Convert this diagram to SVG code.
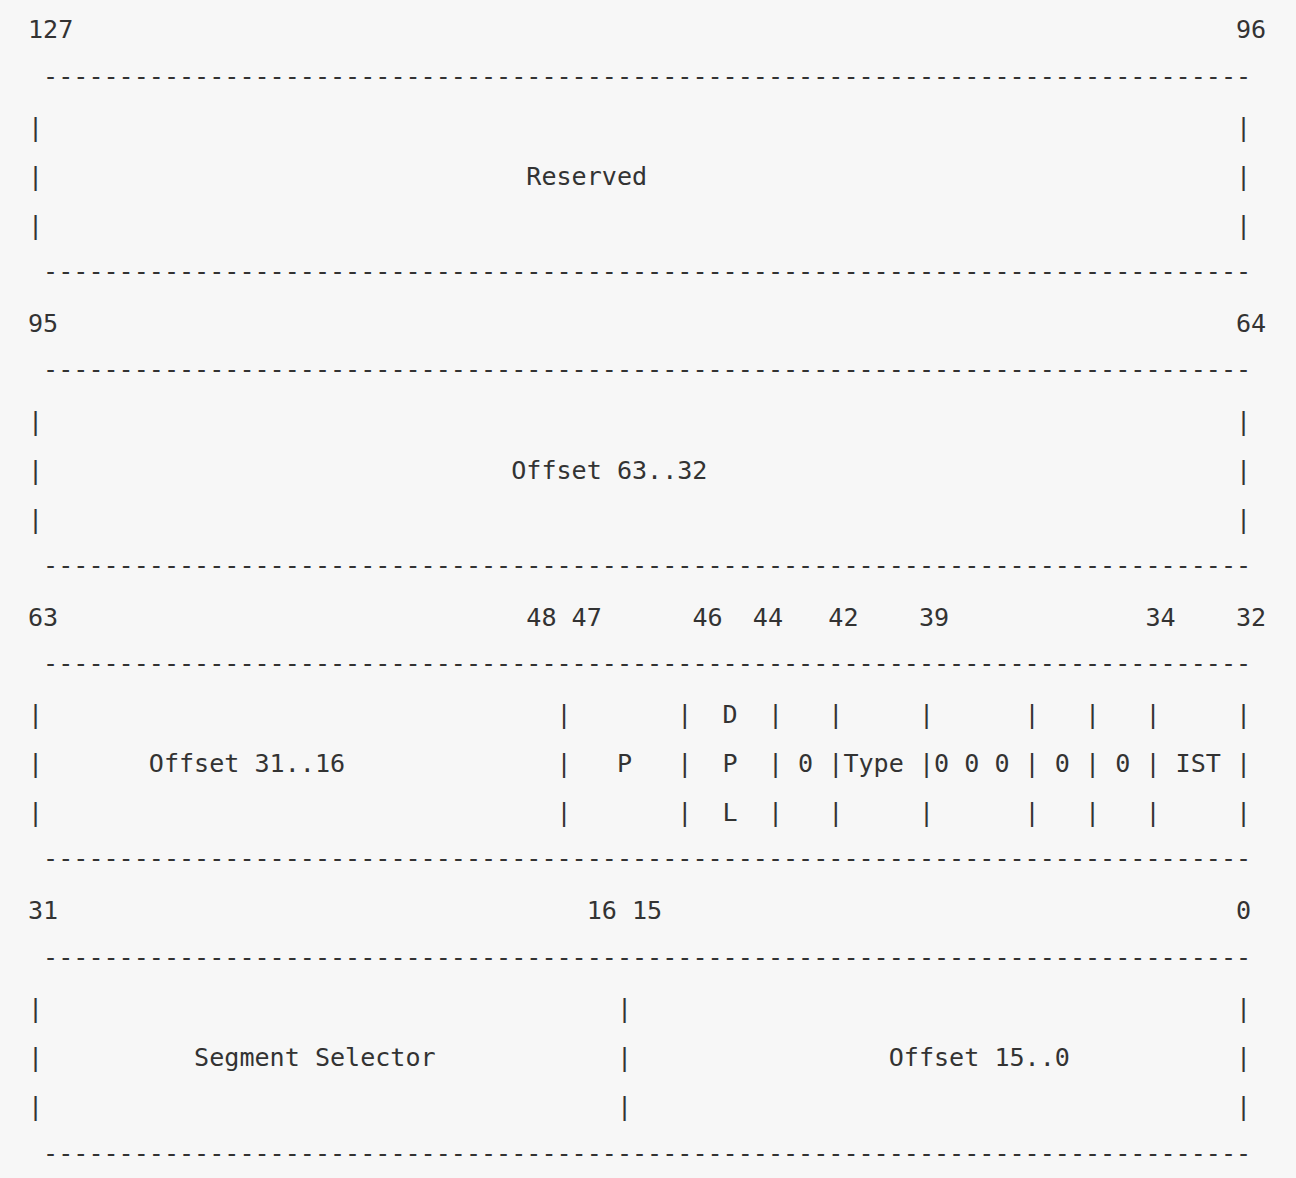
<svg xmlns="http://www.w3.org/2000/svg" width="1296" height="1178" viewBox="0 0 1296 1178">
<style>
text{font-family:"DejaVu Sans Mono","Liberation Mono",monospace;font-size:25.08px;fill:#333333;white-space:pre}
.d{letter-spacing:0}
</style>
<rect width="1296" height="1178" fill="#f7f7f7"/>
<g id="row-127-96">
<text x="28" y="38">127</text><text x="1236" y="38">96</text>
<text class="d" x="43.1" y="85" textLength="1208" lengthAdjust="spacing">--------------------------------------------------------------------------------</text>
<text x="28" y="135.9">|</text><text x="1236" y="135.9">|</text>
<text x="28" y="184.9">|</text><text x="526.3" y="184.9">Reserved</text><text x="1236" y="184.9">|</text>
<text x="28" y="233.8">|</text><text x="1236" y="233.8">|</text>
<text class="d" x="43.1" y="280" textLength="1208" lengthAdjust="spacing">--------------------------------------------------------------------------------</text>
</g>
<g id="row-95-64">
<text x="28" y="331.8">95</text><text x="1236" y="331.8">64</text>
<text class="d" x="43.1" y="378" textLength="1208" lengthAdjust="spacing">--------------------------------------------------------------------------------</text>
<text x="28" y="429.7">|</text><text x="1236" y="429.7">|</text>
<text x="28" y="478.6">|</text><text x="511.2" y="478.6">Offset 63..32</text><text x="1236" y="478.6">|</text>
<text x="28" y="527.6">|</text><text x="1236" y="527.6">|</text>
<text class="d" x="43.1" y="574" textLength="1208" lengthAdjust="spacing">--------------------------------------------------------------------------------</text>
</g>
<g id="row-63-32">
<text x="28" y="625.5">63</text>
<text x="526.3" y="625.5">48</text><text x="571.6" y="625.5">47</text>
<text x="692.4" y="625.5">46</text><text x="752.8" y="625.5">44</text>
<text x="828.3" y="625.5">42</text><text x="918.9" y="625.5">39</text>
<text x="1145.4" y="625.5">34</text><text x="1236" y="625.5">32</text>
<text class="d" x="43.1" y="672" textLength="1208" lengthAdjust="spacing">--------------------------------------------------------------------------------</text>
<g id="r14">
<text x="28" y="723.4">|</text><text x="556.5" y="723.4">|</text><text x="677.3" y="723.4">|</text>
<text x="722.6" y="723.4">D</text><text x="767.9" y="723.4">|</text><text x="828.3" y="723.4">|</text>
<text x="918.9" y="723.4">|</text><text x="1024.6" y="723.4">|</text><text x="1085" y="723.4">|</text>
<text x="1145.4" y="723.4">|</text><text x="1236" y="723.4">|</text>
</g>
<g id="r15">
<text x="28" y="772.4">|</text><text x="148.8" y="772.4">Offset 31..16</text>
<text x="556.5" y="772.4">|</text><text x="616.9" y="772.4">P</text><text x="677.3" y="772.4">|</text>
<text x="722.6" y="772.4">P</text><text x="767.9" y="772.4">|</text><text x="798.1" y="772.4">0</text>
<text x="828.3" y="772.4">|</text><text x="843.4" y="772.4">Type</text>
<text x="918.9" y="772.4">|</text><text x="934" y="772.4">0</text><text x="964.2" y="772.4">0</text><text x="994.4" y="772.4">0</text>
<text x="1024.6" y="772.4">|</text><text x="1054.8" y="772.4">0</text><text x="1085" y="772.4">|</text>
<text x="1115.2" y="772.4">0</text><text x="1145.4" y="772.4">|</text><text x="1175.6" y="772.4">IST</text>
<text x="1236" y="772.4">|</text>
</g>
<g id="r16">
<text x="28" y="821.4">|</text><text x="556.5" y="821.4">|</text><text x="677.3" y="821.4">|</text>
<text x="722.6" y="821.4">L</text><text x="767.9" y="821.4">|</text><text x="828.3" y="821.4">|</text>
<text x="918.9" y="821.4">|</text><text x="1024.6" y="821.4">|</text><text x="1085" y="821.4">|</text>
<text x="1145.4" y="821.4">|</text><text x="1236" y="821.4">|</text>
</g>
<text class="d" x="43.1" y="867" textLength="1208" lengthAdjust="spacing">--------------------------------------------------------------------------------</text>
</g>
<g id="row-31-0">
<text x="28" y="919.3">31</text><text x="586.7" y="919.3">16</text><text x="632" y="919.3">15</text><text x="1236" y="919.3">0</text>
<text class="d" x="43.1" y="966" textLength="1208" lengthAdjust="spacing">--------------------------------------------------------------------------------</text>
<text x="28" y="1017.2">|</text><text x="616.9" y="1017.2">|</text><text x="1236" y="1017.2">|</text>
<text x="28" y="1066.2">|</text><text x="194.1" y="1066.2">Segment Selector</text><text x="616.9" y="1066.2">|</text>
<text x="888.7" y="1066.2">Offset 15..0</text><text x="1236" y="1066.2">|</text>
<text x="28" y="1115.1">|</text><text x="616.9" y="1115.1">|</text><text x="1236" y="1115.1">|</text>
<text class="d" x="43.1" y="1162" textLength="1208" lengthAdjust="spacing">--------------------------------------------------------------------------------</text>
</g>
</svg>
